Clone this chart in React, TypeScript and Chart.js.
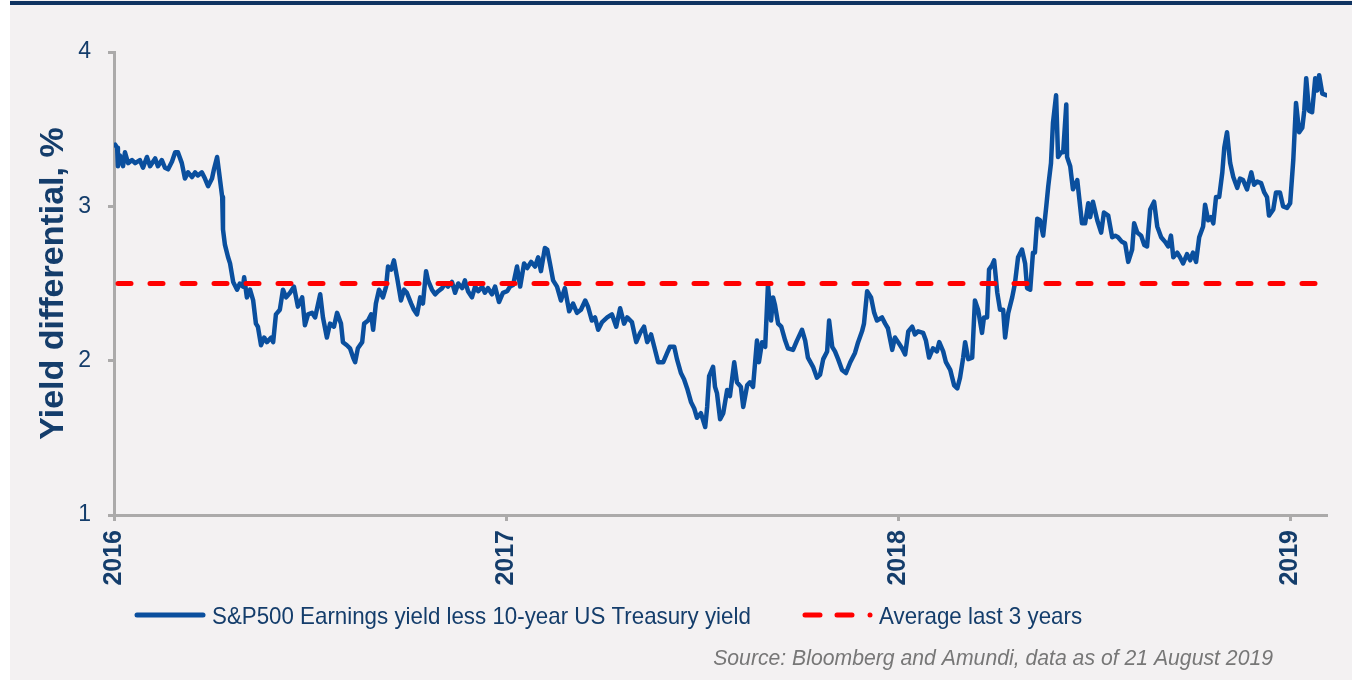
import React, { useEffect, useRef } from "react";
import { Chart, registerables } from "chart.js";

Chart.register(...registerables);

// ---------- data ----------
const START_YEAR = 2016;
const END_YEAR = 2019.094;
const YEAR_TICKS = [2016, 2017, 2018, 2019];
const Y_TICKS = [1, 2, 3, 4];
const AVERAGE_3Y = 2.5;

const SERIES_LABEL = "S&P500 Earnings yield less 10-year US Treasury yield";
const AVG_LABEL = "Average last 3 years";
const Y_TITLE = "Yield differential, %";
const SOURCE = "Source: Bloomberg and Amundi, data as of 21 August 2019";

// time in years since 1 Jan 2016
const YEARS_SINCE_2016 = [
  0.003, 0.008, 0.010, 0.015, 0.023, 0.028, 0.036, 0.046, 0.054, 0.066,
  0.074, 0.084, 0.092, 0.105, 0.112, 0.122, 0.130, 0.138, 0.148, 0.156,
  0.163, 0.173, 0.181, 0.189, 0.199, 0.207, 0.214, 0.224, 0.232, 0.240,
  0.250, 0.255, 0.263, 0.268, 0.276, 0.278, 0.283, 0.291, 0.296, 0.304,
  0.314, 0.321, 0.329, 0.332, 0.339, 0.347, 0.355, 0.362, 0.367, 0.375,
  0.383, 0.390, 0.401, 0.406, 0.413, 0.423, 0.431, 0.439, 0.449, 0.459,
  0.469, 0.480, 0.487, 0.495, 0.505, 0.513, 0.526, 0.533, 0.543, 0.551,
  0.561, 0.569, 0.579, 0.584, 0.594, 0.602, 0.610, 0.615, 0.622, 0.633,
  0.638, 0.648, 0.656, 0.661, 0.668, 0.676, 0.686, 0.694, 0.699, 0.707,
  0.714, 0.722, 0.732, 0.740, 0.747, 0.758, 0.765, 0.773, 0.781, 0.788,
  0.796, 0.801, 0.811, 0.819, 0.827, 0.837, 0.844, 0.852, 0.862, 0.870,
  0.878, 0.888, 0.895, 0.903, 0.913, 0.921, 0.929, 0.939, 0.946, 0.954,
  0.964, 0.972, 0.982, 0.992, 1.003, 1.010, 1.018, 1.028, 1.036, 1.046,
  1.054, 1.064, 1.074, 1.082, 1.089, 1.099, 1.105, 1.112, 1.120, 1.130,
  1.140, 1.150, 1.161, 1.171, 1.181, 1.191, 1.202, 1.209, 1.219, 1.227,
  1.235, 1.245, 1.258, 1.270, 1.281, 1.291, 1.301, 1.309, 1.321, 1.332,
  1.342, 1.352, 1.360, 1.370, 1.378, 1.388, 1.401, 1.411, 1.418, 1.429,
  1.436, 1.446, 1.454, 1.462, 1.472, 1.480, 1.487, 1.497, 1.508, 1.513,
  1.518, 1.528, 1.533, 1.538, 1.546, 1.554, 1.564, 1.571, 1.582, 1.589,
  1.599, 1.605, 1.615, 1.622, 1.630, 1.640, 1.645, 1.653, 1.661, 1.668,
  1.676, 1.681, 1.686, 1.694, 1.702, 1.712, 1.719, 1.732, 1.742, 1.755,
  1.763, 1.770, 1.783, 1.793, 1.801, 1.809, 1.819, 1.824, 1.832, 1.839,
  1.847, 1.857, 1.867, 1.878, 1.890, 1.898, 1.908, 1.913, 1.921, 1.931,
  1.939, 1.946, 1.959, 1.967, 1.974, 1.985, 1.992, 2.000, 2.010, 2.018,
  2.026, 2.036, 2.043, 2.051, 2.064, 2.071, 2.079, 2.089, 2.099, 2.105,
  2.115, 2.122, 2.133, 2.143, 2.151, 2.158, 2.166, 2.171, 2.179, 2.189,
  2.196, 2.204, 2.214, 2.219, 2.227, 2.232, 2.240, 2.245, 2.253, 2.260,
  2.268, 2.273, 2.281, 2.291, 2.298, 2.306, 2.316, 2.324, 2.329, 2.337,
  2.344, 2.349, 2.355, 2.362, 2.370, 2.378, 2.383, 2.390, 2.395, 2.403,
  2.408, 2.416, 2.421, 2.429, 2.431, 2.439, 2.446, 2.457, 2.469, 2.477,
  2.485, 2.490, 2.497, 2.508, 2.518, 2.525, 2.536, 2.546, 2.554, 2.561,
  2.571, 2.579, 2.587, 2.597, 2.602, 2.610, 2.620, 2.628, 2.635, 2.643,
  2.653, 2.661, 2.671, 2.681, 2.689, 2.696, 2.702, 2.712, 2.719, 2.727,
  2.737, 2.745, 2.752, 2.760, 2.768, 2.778, 2.783, 2.791, 2.798, 2.804,
  2.811, 2.819, 2.827, 2.832, 2.839, 2.847, 2.855, 2.865, 2.872, 2.880,
  2.890, 2.901, 2.908, 2.916, 2.926, 2.934, 2.941, 2.946, 2.957, 2.964,
  2.974, 2.982, 2.992, 3.000, 3.008, 3.015, 3.023, 3.031, 3.036, 3.041,
  3.048, 3.056, 3.064, 3.069, 3.074, 3.082, 3.092,
];

// S&P500 earnings yield minus 10y UST yield, %
const SPREAD = [
  3.40, 3.38, 3.26, 3.33, 3.26, 3.35, 3.28, 3.30, 3.28, 3.30,
  3.25, 3.32, 3.26, 3.31, 3.26, 3.30, 3.25, 3.24, 3.29, 3.35,
  3.35, 3.28, 3.18, 3.22, 3.19, 3.22, 3.20, 3.22, 3.18, 3.13,
  3.18, 3.24, 3.32, 3.22, 3.06, 2.85, 2.75, 2.67, 2.63, 2.51,
  2.46, 2.50, 2.48, 2.54, 2.41, 2.46, 2.39, 2.24, 2.22, 2.10,
  2.15, 2.12, 2.15, 2.12, 2.30, 2.33, 2.46, 2.41, 2.44, 2.48,
  2.35, 2.41, 2.23, 2.30, 2.31, 2.28, 2.43, 2.28, 2.15, 2.24,
  2.22, 2.31, 2.24, 2.12, 2.10, 2.08, 2.02, 1.99, 2.08, 2.12,
  2.24, 2.26, 2.30, 2.20, 2.37, 2.46, 2.41, 2.48, 2.61, 2.59,
  2.65, 2.54, 2.39, 2.46, 2.44, 2.37, 2.33, 2.30, 2.41, 2.37,
  2.58, 2.52, 2.46, 2.43, 2.45, 2.47, 2.50, 2.48, 2.51, 2.44,
  2.50, 2.47, 2.52, 2.45, 2.41, 2.48, 2.45, 2.48, 2.44, 2.47,
  2.43, 2.48, 2.38, 2.44, 2.45, 2.48, 2.49, 2.61, 2.48, 2.63,
  2.60, 2.64, 2.61, 2.67, 2.58, 2.73, 2.72, 2.63, 2.52, 2.48,
  2.39, 2.47, 2.32, 2.37, 2.31, 2.33, 2.39, 2.35, 2.26, 2.28,
  2.20, 2.25, 2.28, 2.30, 2.22, 2.34, 2.24, 2.28, 2.25, 2.12,
  2.18, 2.22, 2.12, 2.17, 2.09, 1.99, 1.99, 2.05, 2.09, 2.09,
  2.01, 1.92, 1.88, 1.82, 1.73, 1.69, 1.63, 1.66, 1.57, 1.70,
  1.90, 1.96, 1.83, 1.79, 1.62, 1.66, 1.81, 1.77, 1.99, 1.86,
  1.83, 1.70, 1.84, 1.86, 1.83, 2.13, 1.99, 2.12, 2.09, 2.49,
  2.26, 2.41, 2.36, 2.24, 2.22, 2.13, 2.08, 2.07, 2.13, 2.20,
  2.13, 2.02, 1.96, 1.89, 1.91, 2.01, 2.06, 2.26, 2.09, 2.06,
  2.01, 1.94, 1.92, 1.99, 2.05, 2.12, 2.19, 2.24, 2.45, 2.41,
  2.31, 2.26, 2.28, 2.24, 2.21, 2.07, 2.15, 2.12, 2.08, 2.04,
  2.19, 2.22, 2.17, 2.19, 2.18, 2.13, 2.02, 2.08, 2.06, 2.12,
  2.06, 1.99, 1.94, 1.84, 1.82, 1.89, 2.02, 2.12, 2.01, 2.02,
  2.39, 2.33, 2.18, 2.28, 2.28, 2.59, 2.62, 2.65, 2.44, 2.33,
  2.33, 2.15, 2.31, 2.41, 2.50, 2.67, 2.72, 2.63, 2.47, 2.46,
  2.70, 2.70, 2.92, 2.91, 2.81, 3.00, 3.13, 3.28, 3.54, 3.72,
  3.32, 3.35, 3.35, 3.66, 3.32, 3.26, 3.11, 3.17, 2.89, 2.89,
  3.02, 2.93, 3.03, 2.91, 2.83, 2.96, 2.94, 2.80, 2.81, 2.80,
  2.77, 2.76, 2.64, 2.72, 2.89, 2.83, 2.81, 2.75, 2.74, 2.98,
  3.03, 2.87, 2.80, 2.77, 2.74, 2.81, 2.67, 2.70, 2.67, 2.63,
  2.69, 2.65, 2.70, 2.64, 2.80, 2.87, 3.01, 2.91, 2.93, 2.89,
  3.06, 3.06, 3.22, 3.38, 3.48, 3.28, 3.19, 3.12, 3.18, 3.17,
  3.11, 3.22, 3.14, 3.16, 3.15, 3.09, 3.06, 2.94, 2.98, 3.09,
  3.09, 3.00, 2.99, 3.02, 3.30, 3.67, 3.48, 3.51, 3.62, 3.83,
  3.62, 3.61, 3.83, 3.75, 3.85, 3.73, 3.72,
];

// ---------- styling ----------
const W = 1360;
const H = 682;
const FONT = '"Liberation Sans", Arial, Helvetica, sans-serif';
const NAVY = "#0f3361";
const TEXT = "#143d6b";
const BLUE = "#0a4f9e";
const RED = "#ff0000";
const AXIS = "#abaaaa";
const PANEL = "#f3f1f2";
const SOURCE_GREY = "#777777";
const SQUEEZE = 0.93; // horizontal condensation of the reference's text

function squeezedText(ctx: any, text: string, x: number, y: number) {
  ctx.save();
  ctx.translate(x, y);
  ctx.scale(SQUEEZE, 1);
  ctx.fillText(text, 0, 0);
  ctx.restore();
}

const framePlugin = {
  id: "frame",
  beforeDraw(chart: any) {
    const ctx = chart.ctx;
    ctx.save();
    ctx.fillStyle = "#ffffff";
    ctx.fillRect(0, 0, W, H);
    ctx.fillStyle = PANEL;
    ctx.fillRect(10, 0, 1342, 680);
    ctx.fillStyle = NAVY;
    ctx.fillRect(10, 1, 1342, 4);
    ctx.restore();
  },
  afterDraw(chart: any) {
    const ctx = chart.ctx;
    ctx.save();
    // legend: series line
    ctx.lineCap = "round";
    ctx.lineWidth = 5;
    ctx.strokeStyle = BLUE;
    ctx.beginPath();
    ctx.moveTo(137, 615);
    ctx.lineTo(203, 615);
    ctx.stroke();
    ctx.font = `24px ${FONT}`;
    ctx.fillStyle = TEXT;
    ctx.textBaseline = "alphabetic";
    ctx.textAlign = "left";
    squeezedText(ctx, SERIES_LABEL, 212, 624);
    // legend: average dashed
    ctx.strokeStyle = RED;
    ctx.beginPath();
    ctx.moveTo(805, 615);
    ctx.lineTo(820, 615);
    ctx.moveTo(837, 615);
    ctx.lineTo(852, 615);
    ctx.stroke();
    ctx.fillStyle = RED;
    ctx.beginPath();
    ctx.arc(870, 615, 2.5, 0, Math.PI * 2);
    ctx.fill();
    ctx.fillStyle = TEXT;
    squeezedText(ctx, AVG_LABEL, 879, 624);
    // source
    ctx.font = `italic 22.8px ${FONT}`;
    ctx.fillStyle = SOURCE_GREY;
    ctx.textAlign = "right";
    squeezedText(ctx, SOURCE, 1273, 665);
    ctx.restore();
  },
};

export default function App() {
  const canvasRef = useRef<HTMLCanvasElement | null>(null);

  useEffect(() => {
    document.body.style.margin = "0";
    const canvas = canvasRef.current;
    if (!canvas) return;

    const seriesPoints = YEARS_SINCE_2016.map((t, i) => ({
      x: START_YEAR + t,
      y: SPREAD[i],
    }));
    const avgPoints = [
      { x: START_YEAR, y: AVERAGE_3Y },
      { x: END_YEAR, y: AVERAGE_3Y },
    ];

    const chart = new Chart(canvas, {
      type: "line",
      data: {
        datasets: [
          {
            label: AVG_LABEL,
            data: avgPoints,
            borderColor: RED,
            borderWidth: 5,
            borderDash: [13, 19],
            borderDashOffset: -4,
            borderCapStyle: "round",
            pointRadius: 0,
            fill: false,
          },
          {
            label: SERIES_LABEL,
            data: seriesPoints,
            borderColor: BLUE,
            borderWidth: 4.5,
            borderJoinStyle: "round",
            borderCapStyle: "round",
            pointRadius: 0,
            tension: 0,
            fill: false,
          },
        ],
      },
      options: {
        animation: false,
        responsive: false,
        devicePixelRatio: 1,
        layout: { padding: { top: 52, right: 33, left: 0, bottom: 0 } },
        plugins: {
          legend: { display: false },
          tooltip: { enabled: false },
        },
        scales: {
          x: {
            type: "linear",
            min: START_YEAR,
            max: END_YEAR,
            afterBuildTicks: (s: any) => {
              s.ticks = YEAR_TICKS.map((v) => ({ value: v }));
            },
            afterFit: (s: any) => {
              s.height = H - 515;
            },
            ticks: {
              color: TEXT,
              font: { family: FONT, size: 25, weight: "bold" },
              minRotation: 90,
              maxRotation: 90,
              padding: 9,
              autoSkip: false,
              callback: (v: any) => String(v),
            },
            grid: {
              drawOnChartArea: false,
              drawTicks: true,
              tickLength: 6,
              tickColor: AXIS,
              tickWidth: 3,
            },
            border: { color: AXIS, width: 3 },
          },
          y: {
            min: 1,
            max: 4,
            afterBuildTicks: (s: any) => {
              s.ticks = Y_TICKS.map((v) => ({ value: v }));
            },
            afterFit: (s: any) => {
              s.width = 114;
            },
            ticks: {
              color: TEXT,
              font: { family: FONT, size: 23 },
              padding: 17,
            },
            grid: {
              drawOnChartArea: false,
              drawTicks: true,
              tickLength: 6,
              tickColor: AXIS,
              tickWidth: 3,
            },
            border: { color: AXIS, width: 3 },
            title: {
              display: true,
              text: Y_TITLE,
              color: TEXT,
              font: { family: FONT, size: 34, weight: "bold" },
              padding: { top: 33, bottom: 0 },
            },
          },
        },
      },
      plugins: [framePlugin],
    });

    return () => chart.destroy();
  }, []);

  return (
    <div style={{ width: W, height: H, position: "relative" }}>
      <canvas
        ref={canvasRef}
        width={W}
        height={H}
        style={{ display: "block", width: W, height: H }}
      />
    </div>
  );
}
